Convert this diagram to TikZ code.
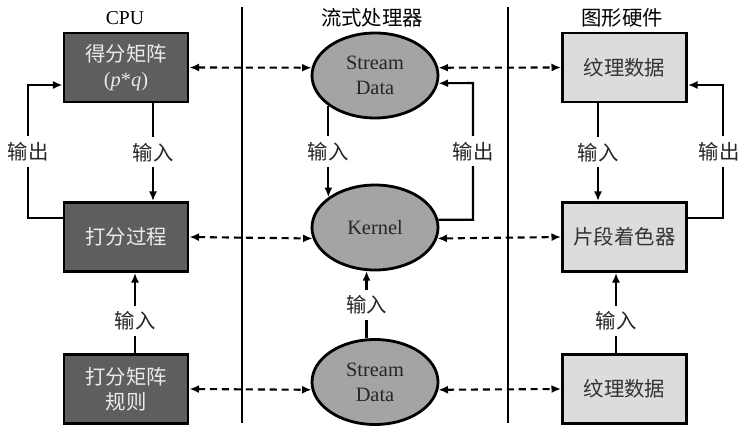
\documentclass[tikz,border=0pt]{standalone}
\usepackage{fontspec}
\setmainfont{Liberation Serif}
\newfontfamily\zhfont{Noto Sans CJK SC}
\usepackage{tikz}
\usetikzlibrary{arrows.meta}
\usetikzlibrary{shapes.geometric}
\usetikzlibrary{positioning}

\definecolor{cpugray}{HTML}{5E5E5E}
\definecolor{streamgray}{HTML}{A4A4A4}
\definecolor{gpugray}{HTML}{DCDCDC}

\begin{document}
\begin{tikzpicture}[
	> = {Latex[length=2.4mm,width=2mm]},
	line width=1.5pt,
	zh/.style = {font=\zhfont\fontsize{14.5}{18}\selectfont},
	cpubox/.style = {draw, line width=2pt, fill=cpugray, text=white!92!black, minimum width=3.1cm, minimum height=1.725cm, align=center, zh},
	gpubox/.style = {cpubox, fill=gpugray, text=black!80},
	streamnode/.style = {ellipse, draw, line width=2pt, fill=streamgray, text=black!85, minimum width=3.15cm, minimum height=2.125cm, align=center, font=\fontsize{14.5}{18}\selectfont},
	lbl/.style = {zh, fill=white, text=black!85, inner xsep=1pt, inner ysep=4pt},
	link/.style = {<->, dashed, dash pattern=on 5pt off 3.5pt}
	]

	\useasboundingbox (0,0) rectangle (18.475,10.7);

	% column separators
	\draw (6.05,0.125) -- (6.05,10.525);
	\draw (12.7,0.125) -- (12.7,10.525);

	\node[font=\fontsize{14}{16}\selectfont] (tcpu) at (3.125,10.25) {CPU};
	\node[zh] (tstream) at (9.3,10.25) {流式处理器};
	\node[zh] (tgpu) at (15.55,10.25) {图形硬件};

	\node[cpubox] (mat) at (3.15,9.0125) {得分矩阵\\\normalfont(\textit{p}*\textit{q})};
	\node[cpubox] (score) at (3.15,4.775) {打分过程};
	\node[cpubox] (rule) at (3.15,0.975) {打分矩阵\\规则};

	\node[streamnode] (sd1) at (9.375,8.8125) {Stream\\Data};
	\node[streamnode] (kern) at (9.375,5.0125) {Kernel};
	\node[streamnode] (sd2) at (9.375,1.15) {Stream\\Data};

	\node[gpubox] (tex1) at (15.6125,9.0125) {纹理数据};
	\node[gpubox] (frag) at (15.6125,4.775) {片段着色器};
	\node[gpubox] (tex2) at (15.6125,0.975) {纹理数据};

	\draw[link] (mat.east) -- (sd1.173);
	\draw[link] (sd1.7) -- (tex1.west);
	\draw[link] (score.east) -- (kern.190);
	\draw[link] (kern.350) -- (frag.west);
	\draw[link] (rule.east) -- (sd2.187);
	\draw[link] (sd2.353) -- (tex2.west);

	% CPU
	\coordinate (lo1) at (0.7,5.25);
	\coordinate (lo2) at (0.7,8.575);
	\draw[->] ([xshift=0.675cm]mat.south) -- node[lbl] {输入} ([xshift=0.675cm]score.north);
	\draw[->] ([xshift=0.225cm]rule.north) -- node[lbl,pos=0.4] {输入} ([xshift=0.225cm]score.south);
	\draw[->] (score.west |- lo1) -- (lo1) -- node[lbl] {输出} (lo2) -- (mat.west |- lo2);

	% stream processor
	\coordinate (mo) at (11.825,8.625);
	\draw[->] (sd1.213) -- node[lbl] {输入} (kern.147);
	\draw[->] (sd2.101) -- node[lbl] {输入} (kern.259);
	\draw[->] (kern.7) -| node[lbl,pos=0.75] {输出} (mo) -- (sd1.353);

	% graphics hardware
	\coordinate (ro1) at (18.075,5.25);
	\coordinate (ro2) at (18.075,8.575);
	\draw[->] ([xshift=-0.6625cm]tex1.south) -- node[lbl] {输入} ([xshift=-0.6625cm]frag.north);
	\draw[->] ([xshift=-0.2125cm]tex2.north) -- node[lbl,pos=0.4] {输入} ([xshift=-0.2125cm]frag.south);
	\draw[->] (frag.east |- ro1) -- (ro1) -- node[lbl,xshift=-0.1cm] {输出} (ro2) -- (tex1.east |- ro2);

\end{tikzpicture}
\end{document}
